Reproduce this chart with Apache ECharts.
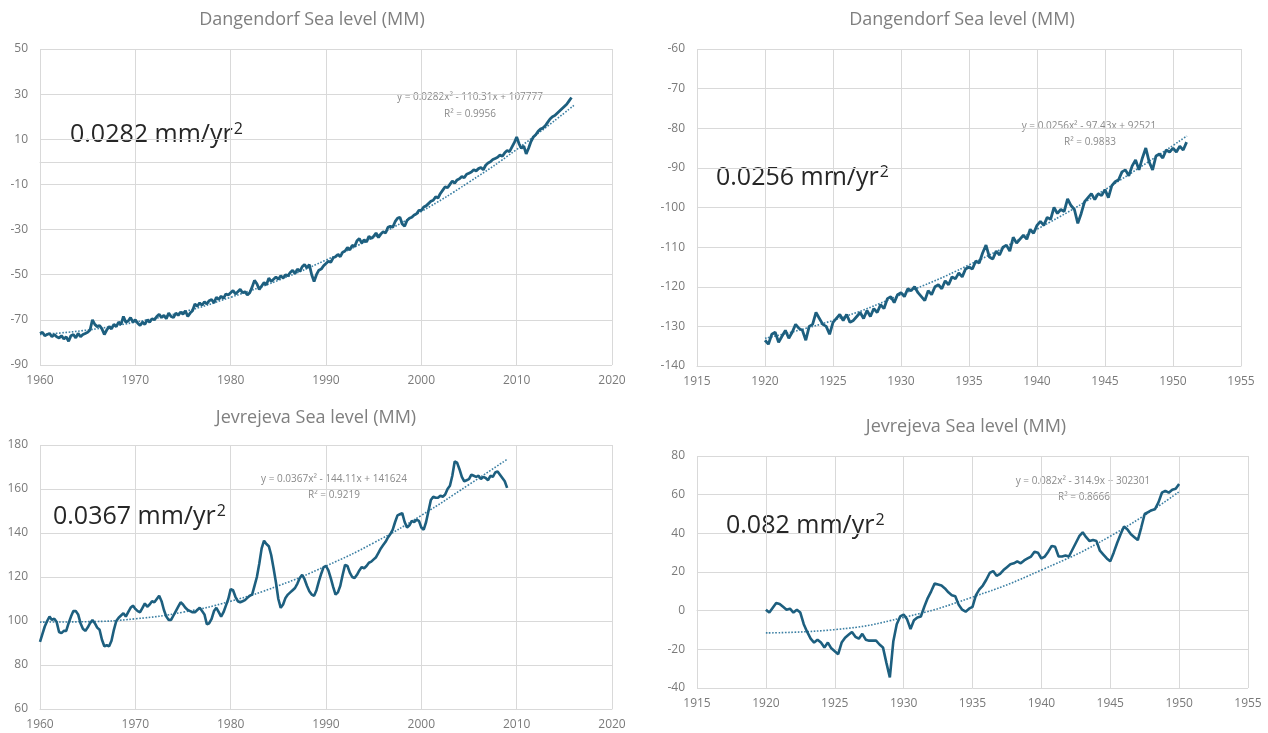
<!DOCTYPE html>
<html>
<head>
<meta charset="utf-8">
<script src="https://cdn.jsdelivr.net/npm/echarts@6/dist/echarts.min.js"></script>
<style>
html,body{margin:0;padding:0;background:#fff;}
#chart{width:1268px;height:733px;}
</style>
</head>
<body>
<div id="chart"></div>
<script>
// ---------- DATA ----------
const step = 0.25;

// Panel 1: Dangendorf 1960-2015.75 (quarterly readings)
const dang1Start = 1960;
const dang1Values = [
-76,-75.5,-77,-76.5, -76,-77.5,-76.5,-77.5, -78,-77,-78.5,-77.5, -79.5,-77,-76.5,-78,
-76,-77.5,-76.5,-76, -75.5,-74.5,-70,-72, -73,-72.5,-74,-76.5, -74.5,-73,-74,-72,
-73,-71,-72,-68.5, -71,-70.5,-69,-71, -70,-71.5,-72.5,-71, -72,-70,-71,-69.5,
-70,-68.5,-67.5,-69, -68,-69.5,-67,-68.5, -69,-67,-68,-66.5, -67.5,-66,-68.5,-67,
-66,-63,-64,-62.5, -63.5,-62,-63,-61.5, -61,-62.5,-60,-61, -59.5,-60.5,-58.5,-59,
-58,-57,-58.5,-57.5, -56.5,-58,-57.5,-59, -58,-55.5,-52.5,-54, -56.5,-55,-53.5,-54.5,
-51.5,-53,-52,-51, -52,-50.5,-51.5,-50, -50.5,-49,-48,-49.5, -47.5,-48.5,-46.5,-45.5,
-47,-45.5,-50,-53, -50,-48,-47.5,-46, -45,-44,-44.5,-42.5, -42,-41,-42,-40,
-39.5,-38,-39,-37, -37.5,-35,-34,-36, -34.5,-35.5,-33,-34, -33,-31.5,-33.5,-32,
-31,-31.5,-29,-28.5, -29,-26.5,-25,-24.5, -27.5,-28.5,-26,-25, -24.5,-23.5,-23,-21.5,
-21.5,-20,-19.5,-18.5, -17.5,-17,-15.5,-16, -14,-12.5,-11,-11.5, -10,-8.5,-9.5,-8,
-7.5,-6.5,-7,-5.5, -5,-4.5,-3.5,-4, -3,-2.5,-3.5,-1.5, -0.5,0,1,1.5,
2,3,2.5,4, 5,4.5,6.5,8.5, 11,8,6,7, 3.5,6,9,11,
12,13.5,14.5,15, 16,17.5,19,20, 20.5,21.5,22.5,23.5, 24.5,25.5,27,28.5
];
const trend1Years = [1960,1965,1970,1975,1980,1985,1990,1995,2000,2005,2010,2016];
const trend1Values = [-76.5,-74.5,-71,-66.5,-60,-52.5,-43.5,-33.5,-22,-9,5.5,25];

// Panel 2: Dangendorf 1920-1951
const dang2Start = 1920;
const dang2Values = [
-133.5,-134.5,-132,-131.5, -134,-132.5,-131,-133, -131.5,-129.5,-130.5,-131, -133.5,-130,-129.5,-126.5,
-128,-129.5,-130,-132, -129,-128,-127,-128.5, -127,-129,-128.5,-127.5, -126.5,-128,-126,-127.5,
-125.5,-126.5,-124.5,-125.5, -123,-122.5,-124,-122, -121.5,-122.5,-120.5,-121, -120,-121.5,-122.5,-123.5,
-121,-122,-120,-119.5, -120.5,-118.5,-119.5,-117.5, -118,-116.5,-117.5,-115.5, -115,-115.5,-113.5,-114,
-111.5,-109.5,-112.5,-113, -111,-112,-110,-109.5, -111,-107.5,-109,-108, -107,-108,-105.5,-106.5,
-104.5,-103.5,-104.5,-102.5, -103,-100,-101.5,-100.5, -101,-97.8,-99.5,-100.5, -104,-101.5,-98.5,-97.5,
-96.5,-98,-96.5,-97, -95.5,-97.5,-94.5,-93.5, -93,-91,-90.5,-92, -89.5,-88,-90.5,-87.5,
-85,-88.5,-90.5,-87, -86.5,-87.5,-85.5,-86, -85,-86,-84.5,-85.5, -83.5
];
const trend2Years = [1920,1925,1930,1935,1940,1945,1951];
const trend2Values = [-133,-128.5,-122,-114.5,-105.5,-95.5,-82];

// Panel 3: Jevrejeva 1960-2009
const jev1Start = 1960;
const jev1Values = [
90.5,94,97.5,100, 102,100.5,101,99.5, 95,94.5,95.5,95.5, 99,102,104.5,104.5,
103,99,96.5,95.5, 97,99,100.5,99, 97,96,91.5,88.5, 89,88.5,91,96,
100,101.5,102.5,103.5, 102,104,106,107, 105.5,104.5,104,106, 108,106.5,107.5,109,
108.5,110,111.5,109, 105,102,100.5,100.5, 102.5,104.5,106.5,108.5, 107.5,106,105,104.5,
104,104,105,106, 104.5,103,98.5,99, 101,104.5,106,104, 102,104,107,110,
114.5,114,111,109, 108.5,109,109.5,110.5, 111.5,112,116,120, 126,133,136.5,135,
134,130,124,117.5, 110,106,107.5,110.5, 112,113,114,115, 117,119.5,121,119,
116,113.5,112,111.5, 114,118,121.5,124.5, 125,123,119.5,115.5, 112,113,116,121,
125.5,125,122,120, 119.5,121,123,124.5, 124,125,126.5,127, 128,129,131,133,
134.5,136,138,139.5, 141.5,145,148,148.5, 149,145,142.5,143.5, 145.5,145,146,145.5,
142.5,141.5,145,150, 155,156.5,156,156, 157,156.5,157.5,160, 161.5,166,172.5,172,
169,165.5,163.5,164, 164.5,166.5,166,165.5, 166,164.5,165.5,165, 164,166,165.5,167.5,
168,166.5,165,163.5, 160.5
];
const trend3Years = [1960,1965,1970,1975,1980,1985,1990,1995,2000,2005,2009];
const trend3Values = [99.5,99.7,101,104,109,116,125,135.5,148,162,173.5];

// Panel 4: Jevrejeva 1920-1950
const jev2Start = 1920;
const jev2Values = [
0.5,-1,1.5,4, 3.5,2,0.5,1, -1,0.5,-1,-7, -11,-14.5,-16.5,-15,
-16.5,-19,-16.5,-19.5, -21,-22.5,-16.5,-14, -12.5,-11,-13.5,-14.5, -12,-15,-15.5,-15.5,
-15.5,-17.5,-19,-27, -34.5,-16,-7,-3, -2,-4.5,-9.5,-5, -3.5,-3,2,6.5,
10,14,13.5,13, 11.5,9.5,8,7.5, 3,0.5,-0.5,1, 2,8,11,13,
16,19.5,20.5,18, 19,21,22.5,24, 24.5,25.5,24.5,26, 27,28,30.5,30,
27,28,30.5,33.5, 33,28,28,28.5, 28,31.5,35,38.5, 40.5,38,36,36.5,
36,31,29,27, 25.5,30,35,39.5, 43.5,42,39.5,38, 36.5,43,50,51,
52,52.5,56,61, 62,61,62.5,63, 65.5
];
const trend4Years = [1920,1925,1930,1935,1940,1945,1950];
const trend4Values = [-11.5,-9.8,-3.5,7,21,38.5,61.5];

// Texts
const titles = ['Dangendorf Sea level (MM)','Dangendorf Sea level (MM)','Jevrejeva Sea level (MM)','Jevrejeva Sea level (MM)'];
const rates = ['0.0282','0.0256','0.0367','0.082'];
const equations = ['y = 0.0282x\u00B2 - 110.31x + 107777','y = 0.0256x\u00B2 - 97.43x + 92521','y = 0.0367x\u00B2 - 144.11x + 141624','y = 0.082x\u00B2 - 314.9x + 302301'];
const r2s = ['R\u00B2 = 0.9956','R\u00B2 = 0.9883','R\u00B2 = 0.9219','R\u00B2 = 0.8666'];

// ---------- BUILD ----------
function pairs(start, vals){ return vals.map((v,i)=>[start+i*step, v]); }
function zipXY(xs, ys){ return xs.map((x,i)=>[x, ys[i]]); }

const FONT = 'Open Sans';
const LINE = '#1d5f7f';
const TREND = '#3b7fa3';
const GRIDC = '#d9d9d9';
const LABC = '#7a7a7a';

const grids = [
  {left:40, top:49, width:572, height:316},
  {left:697, top:49, width:544, height:317},
  {left:40, top:445, width:572, height:264},
  {left:697, top:456, width:551, height:232}
];
const xCfg = [[1960,2020,10],[1915,1955,5],[1960,2020,10],[1915,1955,5]];
const yCfg = [[-90,50,20],[-140,-60,10],[60,180,20],[-40,80,20]];

const xAxis = xCfg.map((c,i)=>({
  type:'value', gridIndex:i, min:c[0], max:c[1], interval:c[2],
  axisLine:{show:true, lineStyle:{color:GRIDC}},
  axisTick:{show:false},
  splitLine:{show:true, lineStyle:{color:GRIDC, width:1}},
  axisLabel:{color:LABC, fontFamily:FONT, fontSize:12, margin:10, formatter:v=>String(v)}
}));
const yAxis = yCfg.map((c,i)=>({
  type:'value', gridIndex:i, min:c[0], max:c[1], interval:c[2],
  axisLine:{show:false},
  axisTick:{show:false},
  splitLine:{show:true, lineStyle:{color:GRIDC, width:1}},
  axisLabel:{color:LABC, fontFamily:FONT, fontSize:12, margin:12, formatter:v=>String(v)}
}));

const dataSets = [pairs(dang1Start,dang1Values), pairs(dang2Start,dang2Values), pairs(jev1Start,jev1Values), pairs(jev2Start,jev2Values)];
const trendSets = [zipXY(trend1Years,trend1Values), zipXY(trend2Years,trend2Values), zipXY(trend3Years,trend3Values), zipXY(trend4Years,trend4Values)];
const widths = [2.8,2.8,2.6,2.6];

const series = [];
for (let i=0;i<4;i++){
  series.push({type:'line', xAxisIndex:i, yAxisIndex:i, data:trendSets[i], smooth:true, showSymbol:false, symbol:'none',
    lineStyle:{color:TREND, width:1.6, type:'dotted'}, z:2, animation:false});
  series.push({type:'line', xAxisIndex:i, yAxisIndex:i, data:dataSets[i], showSymbol:false, symbol:'none',
    lineStyle:{color:LINE, width:widths[i]}, z:3, animation:false});
}

const titlePos = [[312,20],[962,20],[316,418],[966,427]];
const ratePos = [[70,132],[716,175],[53,514],[726,523]];
const eqPos = [[470,97],[1089,126],[334,479],[1083,481]];
const r2Pos = [[470,114],[1090,142],[334,495],[1084,497]];

const graphic = [];
for (let i=0;i<4;i++){
  graphic.push({type:'text', x:titlePos[i][0], y:titlePos[i][1], style:{text:titles[i], fill:'#7f7f7f', font:'18px "'+FONT+'"', textAlign:'center', textVerticalAlign:'middle'}});
  graphic.push({type:'text', x:ratePos[i][0], y:ratePos[i][1], style:{
    text:'{m|'+rates[i]+' mm/yr}{s|2}', textAlign:'left', textVerticalAlign:'middle',
    rich:{
      m:{fontFamily:FONT, fontSize:25, fill:'#262626', color:'#262626', verticalAlign:'bottom', lineHeight:30},
      s:{fontFamily:FONT, fontSize:16, fill:'#262626', color:'#262626', verticalAlign:'bottom', lineHeight:30, padding:[0,0,10,1]}
    }}});
  graphic.push({type:'text', x:eqPos[i][0], y:eqPos[i][1], style:{text:equations[i], fill:'#8a8a8a', font:'10px "'+FONT+'"', textAlign:'center', textVerticalAlign:'middle'}});
  graphic.push({type:'text', x:r2Pos[i][0], y:r2Pos[i][1], style:{text:r2s[i], fill:'#8a8a8a', font:'10px "'+FONT+'"', textAlign:'center', textVerticalAlign:'middle'}});
}

const chart = echarts.init(document.getElementById('chart'), null, {renderer:'canvas'});
chart.setOption({
  animation:false,
  backgroundColor:'#ffffff',
  grid:grids,
  xAxis:xAxis,
  yAxis:yAxis,
  series:series,
  graphic:graphic
});
</script>
</body>
</html>
